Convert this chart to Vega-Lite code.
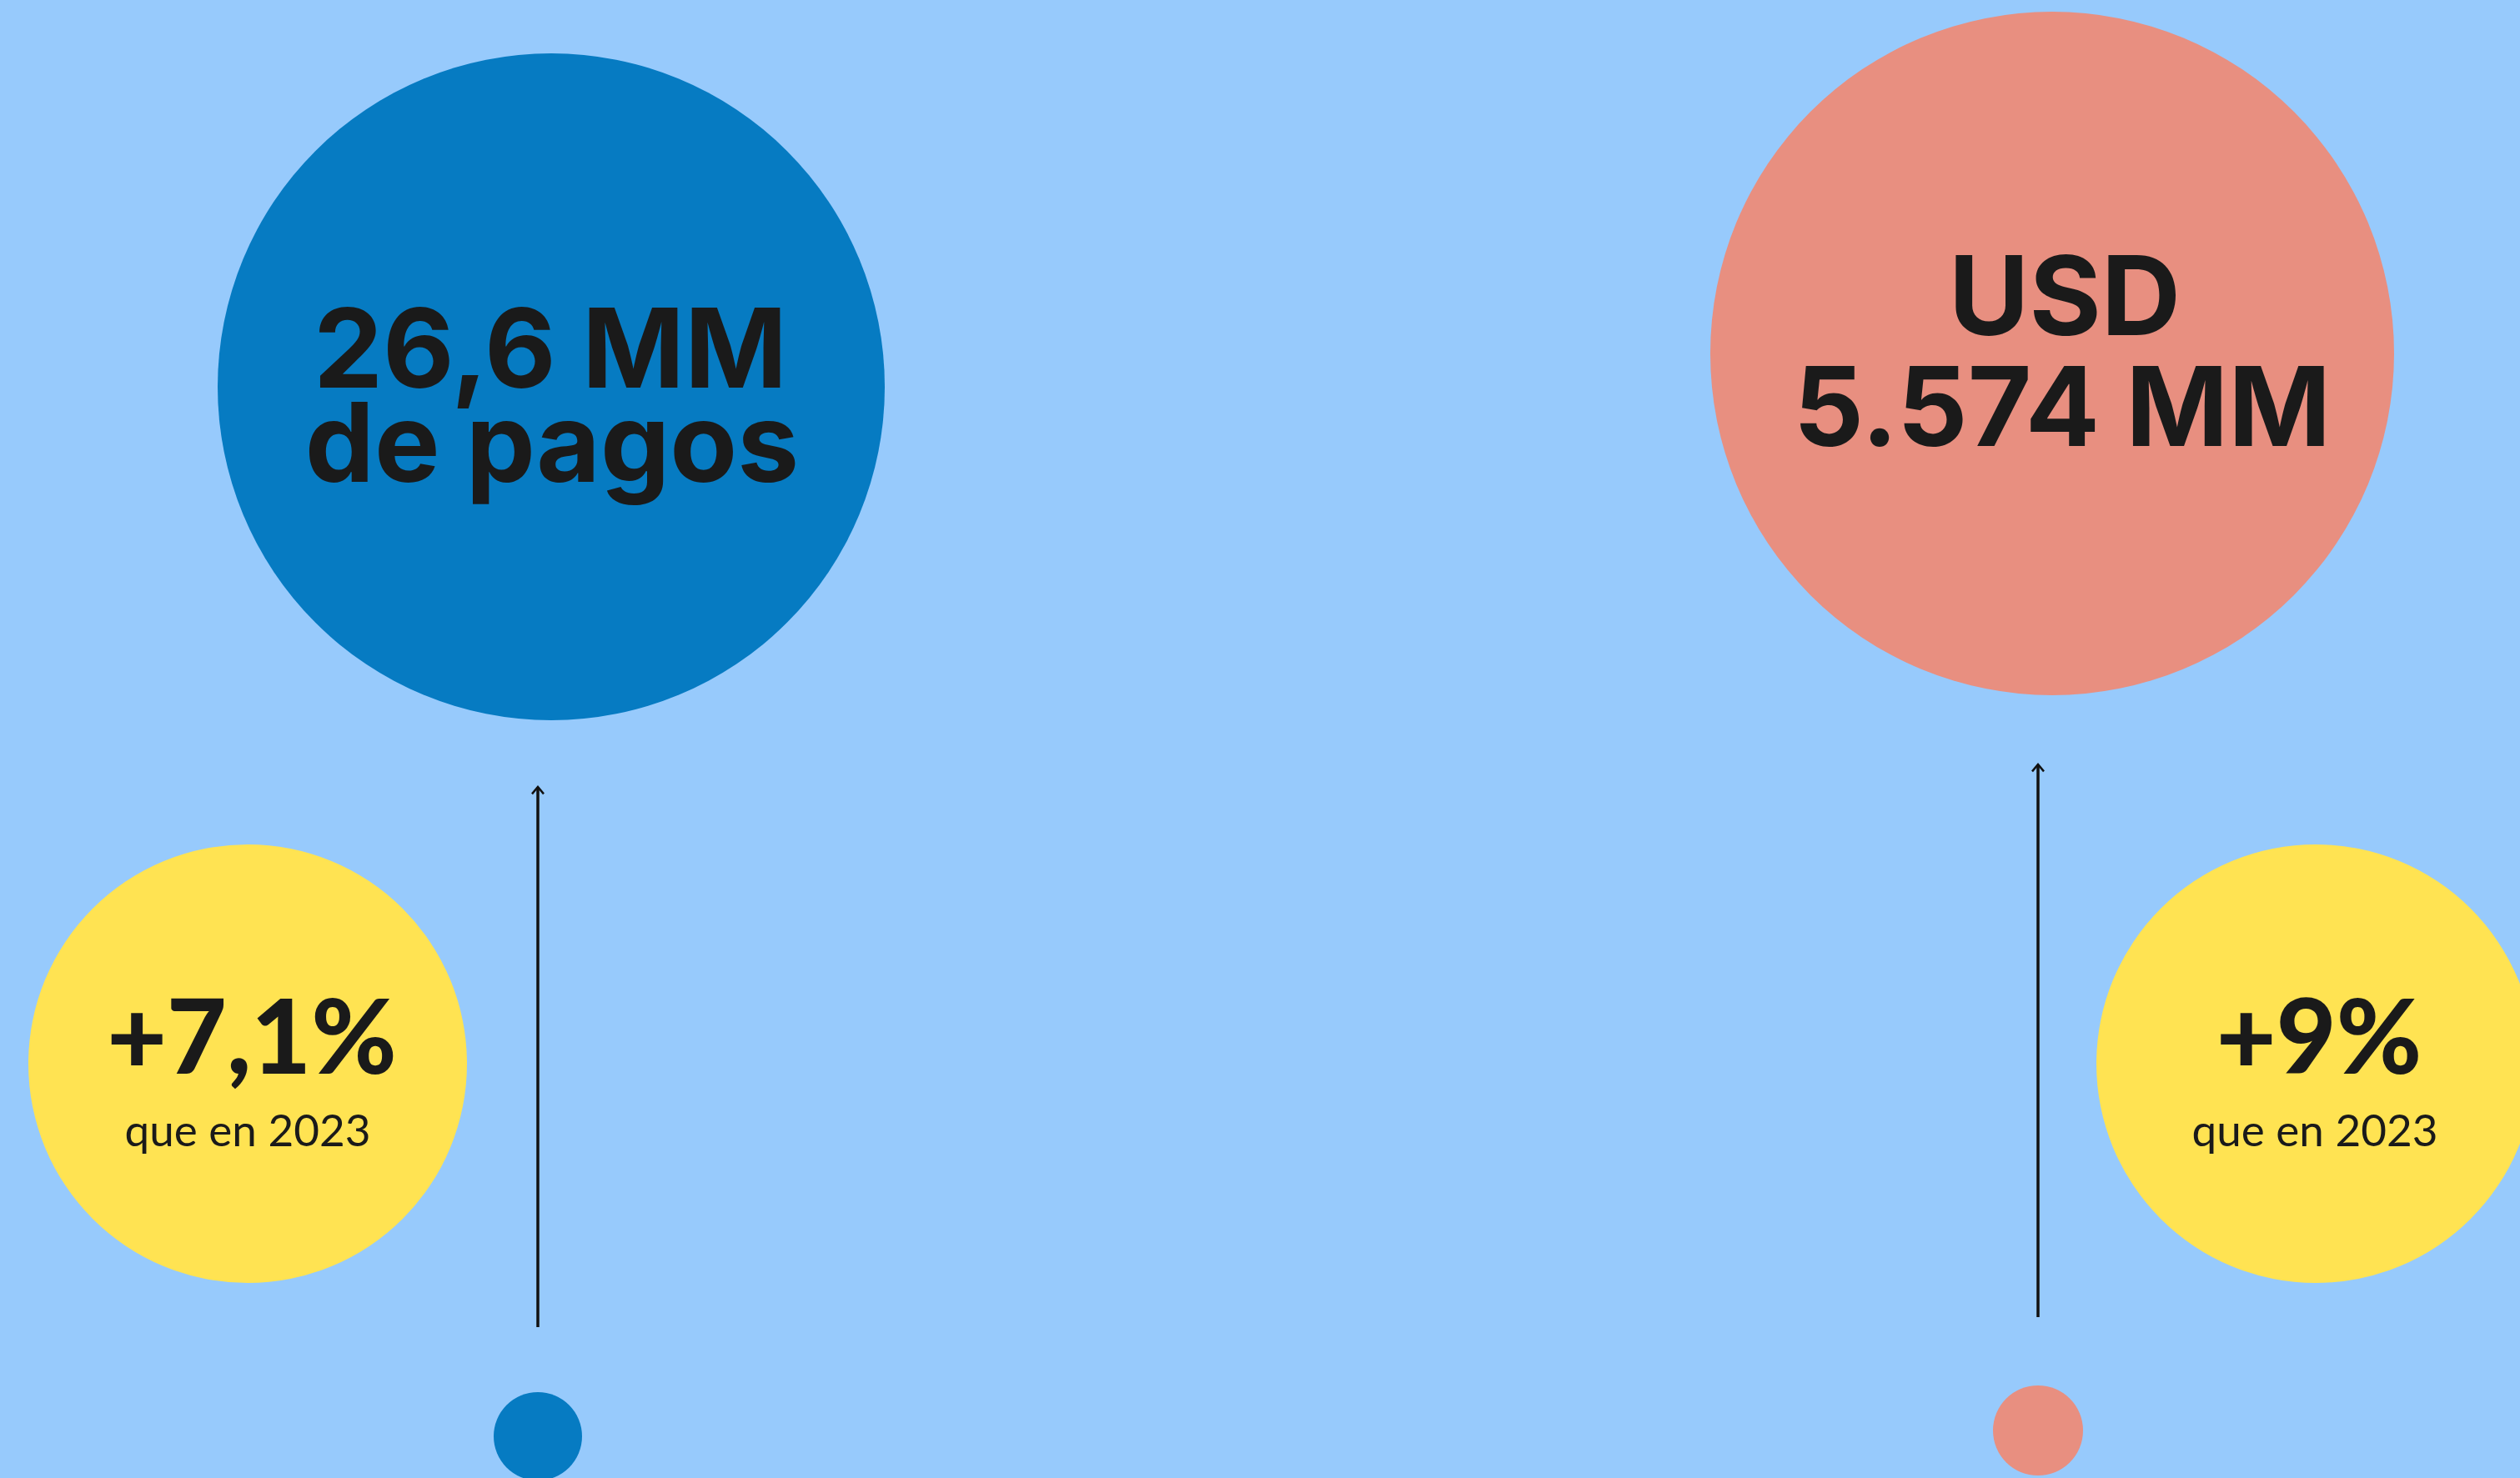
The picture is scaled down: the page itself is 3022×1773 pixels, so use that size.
{
  "$schema": "https://vega.github.io/schema/vega-lite/v6.json",
  "width": 3022,
  "height": 1773,
  "autosize": {"type": "none"},
  "padding": 0,
  "background": "#97CAFC",
  "config": {"view": {"stroke": null}},
  "datasets": {
    "circulos": [
      {"clave": "pagos-total", "x": 661, "y": 464},
      {"clave": "monto-total", "x": 2461, "y": 424},
      {"clave": "pagos-var", "x": 297, "y": 1276},
      {"clave": "monto-var", "x": 2777, "y": 1276},
      {"clave": "pagos-origen", "x": 645, "y": 1723},
      {"clave": "monto-origen", "x": 2444, "y": 1716}
    ],
    "flechas": [
      {"metrica": "pagos", "x": 645, "y_punta": 944, "y_base": 1592},
      {"metrica": "monto", "x": 2444, "y_punta": 917, "y_base": 1580}
    ],
    "textos": [
      {"estilo": "cifra", "texto": "26,6 MM", "x": 660, "y": 465},
      {"estilo": "cifra", "texto": "de pagos", "x": 662, "y": 578},
      {"estilo": "cifra", "texto": "USD", "x": 2476, "y": 402},
      {"estilo": "cifra", "texto": "5.574 MM", "x": 2473, "y": 535},
      {"estilo": "variacion", "texto": "+7,1%", "x": 302, "y": 1288},
      {"estilo": "variacion", "texto": "+9%", "x": 2781, "y": 1288},
      {"estilo": "nota", "texto": "que en 2023", "x": 297, "y": 1375},
      {"estilo": "nota", "texto": "que en 2023", "x": 2776, "y": 1375}
    ]
  },
  "encoding": {
    "x": {"field": "x", "type": "quantitative", "scale": {"domain": [0, 3022], "nice": false, "zero": false}, "axis": null},
    "y": {"field": "y", "type": "quantitative", "scale": {"domain": [0, 1773], "nice": false, "zero": false, "reverse": true}, "axis": null}
  },
  "layer": [
    {
      "data": {"name": "circulos"},
      "mark": {"type": "point", "shape": "circle", "filled": true, "opacity": 1, "strokeWidth": 0, "clip": true},
      "encoding": {
        "size": {"field": "clave", "type": "nominal", "legend": null,
          "scale": {"type": "ordinal", "domain": ["pagos-total", "monto-total", "pagos-var", "monto-var", "pagos-origen", "monto-origen"],
                    "range": [640000, 672400, 276676, 276676, 11236, 11664]}},
        "color": {"field": "clave", "type": "nominal", "legend": null,
          "scale": {"domain": ["pagos-total", "monto-total", "pagos-var", "monto-var", "pagos-origen", "monto-origen"],
                    "range": ["#067BC2", "#E88F80", "#FFE352", "#FFE352", "#067BC2", "#E88F80"]}}
      }
    },
    {
      "data": {"name": "flechas"},
      "mark": {"type": "rule", "color": "#111111", "strokeWidth": 3.5, "clip": true},
      "encoding": {
        "y": {"field": "y_punta", "type": "quantitative"},
        "y2": {"field": "y_base"}
      }
    },
    {
      "data": {"name": "flechas"},
      "mark": {"type": "point", "shape": "M-1,1.2L0,0L1,1.2", "filled": false, "size": 196, "strokeWidth": 2.5, "color": "#111111", "opacity": 1, "clip": true},
      "encoding": {
        "y": {"field": "y_punta", "type": "quantitative"}
      }
    },
    {
      "data": {"name": "textos"},
      "transform": [{"filter": "datum.estilo === 'cifra'"}],
      "mark": {"type": "text", "font": "Inter", "fontWeight": 700, "fontSize": 132, "align": "center", "baseline": "alphabetic", "color": "#1A1A1A"},
      "encoding": {"text": {"field": "texto"}}
    },
    {
      "data": {"name": "textos"},
      "transform": [{"filter": "datum.estilo === 'variacion'"}],
      "mark": {"type": "text", "font": "Lato", "fontWeight": 900, "fontSize": 124, "align": "center", "baseline": "alphabetic", "color": "#1A1A1A"},
      "encoding": {"text": {"field": "texto"}}
    },
    {
      "data": {"name": "textos"},
      "transform": [{"filter": "datum.estilo === 'nota'"}],
      "mark": {"type": "text", "font": "Lato", "fontWeight": 400, "fontSize": 53, "align": "center", "baseline": "alphabetic", "color": "#1A1A1A"},
      "encoding": {"text": {"field": "texto"}}
    }
  ]
}
